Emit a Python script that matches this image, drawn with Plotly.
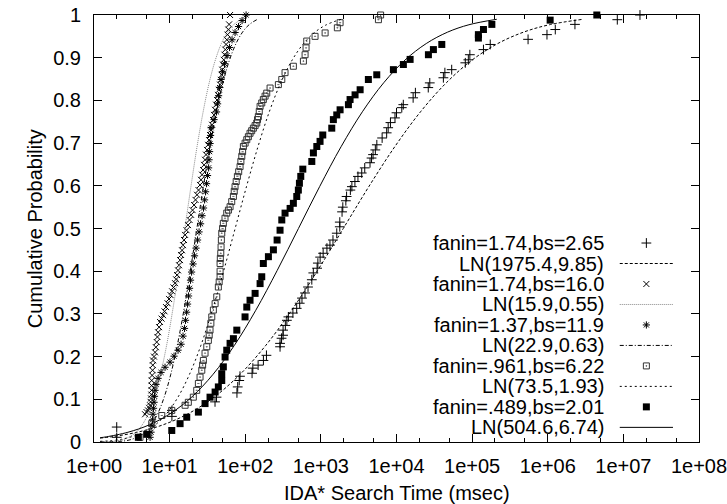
import plotly.graph_objects as go

# ---- data: log10(search time in msec) and cumulative probability ----
# fanin=1.74,bs=2.65  (+)
s1_log10_ms = [0.30, 0.30, 1.03, 1.03, 1.60, 1.62, 1.89, 1.90, 1.92, 1.93, 2.09, 2.10, 2.17, 2.24, 2.28,
               2.46, 2.46, 2.48, 2.50, 2.50, 2.53, 2.55, 2.57, 2.63, 2.68, 2.72, 2.75, 2.79, 2.83, 2.88,
               2.90, 2.95, 2.96, 2.99, 3.03, 3.08, 3.12, 3.16, 3.21, 3.25, 3.25, 3.28, 3.29, 3.33, 3.34,
               3.39, 3.41, 3.45, 3.49, 3.54, 3.58, 3.65, 3.67, 3.69, 3.72, 3.74, 3.81, 3.87, 3.89, 3.92,
               3.98, 4.00, 4.07, 4.09, 4.22, 4.25, 4.42, 4.44, 4.62, 4.64, 4.73, 4.91, 4.95, 4.97, 5.15,
               5.24, 5.74, 5.99, 6.10, 6.36, 6.92, 7.22]
s1_prob = [0.011, 0.035, 0.060, 0.074, 0.094, 0.105, 0.115, 0.129, 0.144, 0.154, 0.161, 0.173, 0.180, 0.191, 0.203,
           0.223, 0.231, 0.243, 0.250, 0.262, 0.273, 0.285, 0.293, 0.302, 0.313, 0.325, 0.337, 0.349, 0.363, 0.380,
           0.396, 0.407, 0.419, 0.433, 0.442, 0.454, 0.461, 0.473, 0.489, 0.504, 0.515, 0.539, 0.550, 0.565, 0.575,
           0.590, 0.598, 0.610, 0.622, 0.630, 0.642, 0.654, 0.665, 0.673, 0.684, 0.696, 0.712, 0.724, 0.736, 0.748,
           0.759, 0.771, 0.783, 0.790, 0.806, 0.818, 0.830, 0.841, 0.853, 0.865, 0.872, 0.888, 0.895, 0.907, 0.919,
           0.931, 0.943, 0.954, 0.966, 0.978, 0.989, 1.0]

# fanin=1.74,bs=16.0  (x)
s2_log10_ms = [0.675, 0.695, 0.714, 0.728, 0.741, 0.748, 0.754, 0.758, 0.761, 0.762,
               0.763, 0.768, 0.774, 0.777, 0.780, 0.793, 0.807, 0.818, 0.829, 0.838,
               0.847, 0.860, 0.873, 0.893, 0.913, 0.932, 0.952, 0.972, 0.992, 1.012,
               1.032, 1.051, 1.071, 1.085, 1.098, 1.111, 1.124, 1.138, 1.151, 1.164,
               1.177, 1.190, 1.204, 1.223, 1.243, 1.263, 1.283, 1.303, 1.323, 1.342,
               1.362, 1.382, 1.402, 1.415, 1.429, 1.442, 1.455, 1.468, 1.481, 1.494,
               1.508, 1.521, 1.534, 1.547, 1.561, 1.574, 1.587, 1.600, 1.614, 1.627,
               1.640, 1.653, 1.667, 1.677, 1.687, 1.696, 1.706, 1.716, 1.726, 1.736,
               1.746, 1.756, 1.766, 1.776, 1.786, 1.799]
s2_prob = [0.065, 0.070, 0.074, 0.080, 0.086, 0.094, 0.102, 0.111, 0.121, 0.132,
           0.144, 0.156, 0.168, 0.180, 0.191, 0.200, 0.210, 0.222, 0.234, 0.246,
           0.257, 0.269, 0.281, 0.289, 0.297, 0.306, 0.316, 0.325, 0.335, 0.344,
           0.353, 0.362, 0.372, 0.381, 0.391, 0.402, 0.414, 0.426, 0.438, 0.449,
           0.461, 0.473, 0.485, 0.496, 0.508, 0.520, 0.532, 0.543, 0.555, 0.567,
           0.579, 0.590, 0.602, 0.614, 0.626, 0.637, 0.649, 0.661, 0.673, 0.684,
           0.696, 0.707, 0.719, 0.731, 0.743, 0.754, 0.766, 0.778, 0.790, 0.801,
           0.813, 0.825, 0.837, 0.848, 0.860, 0.872, 0.884, 0.895, 0.907, 0.919,
           0.931, 0.942, 0.954, 0.966, 0.978, 1.0]

# fanin=1.37,bs=11.9  (*)
s3_log10_ms = [0.741, 0.754, 0.767, 0.774, 0.780, 0.787, 0.794, 0.800, 0.807, 0.820, 0.847, 0.886, 0.939, 1.005,
               1.058, 1.111, 1.151, 1.177, 1.197, 1.210, 1.224, 1.237, 1.250, 1.263, 1.276, 1.290, 1.310, 1.329,
               1.349, 1.369, 1.389, 1.409, 1.429, 1.448, 1.462, 1.475, 1.488, 1.501, 1.515, 1.521, 1.528, 1.534,
               1.541, 1.548, 1.587, 1.620, 1.634, 1.647, 1.660, 1.680, 1.700, 1.726, 1.759, 1.792, 1.825, 1.865,
               1.911, 1.958, 2.011]
s3_prob = [0.011, 0.023, 0.038, 0.052, 0.065, 0.079, 0.093, 0.107, 0.121, 0.135, 0.149, 0.163, 0.175, 0.187,
           0.201, 0.215, 0.229, 0.248, 0.266, 0.285, 0.304, 0.323, 0.342, 0.360, 0.379, 0.398, 0.417, 0.436,
           0.454, 0.473, 0.492, 0.511, 0.530, 0.548, 0.567, 0.586, 0.605, 0.624, 0.642, 0.661, 0.680, 0.699,
           0.718, 0.736, 0.755, 0.773, 0.792, 0.811, 0.830, 0.849, 0.867, 0.886, 0.905, 0.924, 0.942, 0.959,
           0.973, 0.987, 1.0]

# fanin=.961,bs=6.22  (dotted square)
s4_log10_ms = [0.608, 0.763, 0.896, 1.028, 1.204, 1.247, 1.313, 1.358, 1.380, 1.402,
               1.425, 1.436, 1.446, 1.468, 1.491, 1.512, 1.523, 1.534, 1.545, 1.557,
               1.578, 1.601, 1.623, 1.644, 1.655, 1.667, 1.667, 1.667, 1.670, 1.676,
               1.680, 1.684, 1.689, 1.700, 1.710, 1.732, 1.755, 1.777, 1.799, 1.821,
               1.843, 1.854, 1.865, 1.880, 1.896, 1.913, 1.931, 1.942, 1.954, 1.965,
               1.975, 1.998, 2.020, 2.041, 2.063, 2.085, 2.107, 2.130, 2.152, 2.162,
               2.173, 2.185, 2.196, 2.218, 2.239, 2.262, 2.284, 2.328, 2.438, 2.483,
               2.526, 2.636, 2.769, 2.791, 2.804, 2.813, 2.923, 3.056, 3.218, 3.254,
               3.761, 3.790]
s4_prob = [0.011, 0.043, 0.062, 0.074, 0.086, 0.093, 0.105, 0.121, 0.137, 0.152,
           0.168, 0.180, 0.191, 0.208, 0.223, 0.238, 0.250, 0.262, 0.278, 0.293,
           0.309, 0.324, 0.340, 0.363, 0.375, 0.387, 0.400, 0.418, 0.430, 0.442,
           0.457, 0.473, 0.489, 0.500, 0.512, 0.524, 0.536, 0.543, 0.551, 0.563,
           0.575, 0.587, 0.598, 0.610, 0.622, 0.633, 0.645, 0.657, 0.669, 0.680,
           0.692, 0.700, 0.708, 0.715, 0.723, 0.729, 0.735, 0.741, 0.747, 0.755,
           0.762, 0.774, 0.786, 0.794, 0.802, 0.810, 0.817, 0.829, 0.837, 0.849,
           0.865, 0.880, 0.892, 0.907, 0.923, 0.939, 0.950, 0.958, 0.970, 0.982,
           0.989, 1.0]

# fanin=.489,bs=2.01  (filled square)
s5_log10_ms = [0.586, 0.697, 1.028, 1.138, 1.226, 1.380, 1.468, 1.534, 1.601, 1.644, 1.689, 1.689, 1.710, 1.733,
               1.755, 1.799, 1.843, 1.888, 1.997, 2.020, 2.063, 2.130, 2.196, 2.218, 2.239, 2.306, 2.372, 2.421,
               2.460, 2.483, 2.526, 2.593, 2.636, 2.681, 2.702, 2.716, 2.734, 2.761, 2.880, 2.901, 2.946, 2.989,
               3.025, 3.144, 3.165, 3.210, 3.254, 3.364, 3.386, 3.452, 3.519, 3.628, 3.739, 3.959, 4.091, 4.180,
               4.422, 4.488, 4.599, 5.083, 5.083, 5.150, 5.261, 6.032, 6.649]
s5_prob = [0.011, 0.018, 0.027, 0.043, 0.058, 0.070, 0.090, 0.105, 0.117, 0.129, 0.144, 0.160, 0.176, 0.199,
           0.215, 0.231, 0.242, 0.262, 0.293, 0.316, 0.332, 0.348, 0.371, 0.387, 0.418, 0.434, 0.450, 0.473,
           0.496, 0.520, 0.536, 0.547, 0.559, 0.575, 0.590, 0.606, 0.622, 0.639, 0.657, 0.677, 0.692, 0.704,
           0.719, 0.735, 0.755, 0.766, 0.778, 0.790, 0.802, 0.813, 0.825, 0.849, 0.860, 0.872, 0.884, 0.896,
           0.907, 0.919, 0.931, 0.946, 0.954, 0.966, 0.978, 0.988, 1.0]

# fitted log-normal curves
f1_log10_ms = [0.08, 0.229, 0.570, 0.910, 1.251, 1.592, 1.933, 2.273, 2.614, 2.955, 3.296, 3.636, 3.977,
               4.318, 4.659, 4.999, 5.340, 5.681, 6.022, 6.466]
f1_prob = [0.0091, 0.0122, 0.0228, 0.0401, 0.0668, 0.1056, 0.1587, 0.2266, 0.3085, 0.4013, 0.5, 0.5987,
           0.6915, 0.7734, 0.8413, 0.8944, 0.9332, 0.9599, 0.9772, 0.99]
f2_log10_ms = [0.08, 0.235, 0.396, 0.557, 0.637, 0.718, 0.799, 0.879, 0.960, 1.040, 1.121, 1.201, 1.282,
               1.362, 1.443, 1.523, 1.604, 1.684, 1.765, 1.845, 1.950]
f2_prob = [0.0, 0.0013, 0.0062, 0.0228, 0.0401, 0.0668, 0.1056, 0.1587, 0.2266, 0.3085, 0.4013, 0.5, 0.5987,
           0.6915, 0.7734, 0.8413, 0.8944, 0.9332, 0.9599, 0.9772, 0.99]
f3_log10_ms = [0.08, 0.325, 0.498, 0.670, 0.756, 0.843, 0.929, 1.015, 1.101, 1.188, 1.274, 1.360, 1.446,
               1.533, 1.619, 1.705, 1.791, 1.878, 1.964, 2.050, 2.162]
f3_prob = [0.0, 0.0013, 0.0062, 0.0228, 0.0401, 0.0668, 0.1056, 0.1587, 0.2266, 0.3085, 0.4013, 0.5, 0.5987,
           0.6915, 0.7734, 0.8413, 0.8944, 0.9332, 0.9599, 0.9772, 0.99]
f4_log10_ms = [0.08, 0.358, 0.659, 0.810, 0.961, 1.112, 1.263, 1.414, 1.564, 1.715, 1.866, 2.017, 2.168,
               2.318, 2.469, 2.620, 2.771, 2.922, 3.073, 3.269]
f4_prob = [0.0015, 0.0062, 0.0228, 0.0401, 0.0668, 0.1056, 0.1587, 0.2266, 0.3085, 0.4013, 0.5, 0.5987,
           0.6915, 0.7734, 0.8413, 0.8944, 0.9332, 0.9599, 0.9772, 0.99]
f5_log10_ms = [0.08, 0.166, 0.448, 0.730, 1.012, 1.294, 1.575, 1.857, 2.139, 2.421, 2.703, 2.985, 3.267,
               3.549, 3.831, 4.112, 4.394, 4.676, 4.958, 5.326]
f5_prob = [0.010, 0.0122, 0.0228, 0.0401, 0.0668, 0.1056, 0.1587, 0.2266, 0.3085, 0.4013, 0.5, 0.5987,
           0.6915, 0.7734, 0.8413, 0.8944, 0.9332, 0.9599, 0.9772, 0.99]

legend_labels = ["fanin=1.74,bs=2.65", "LN(1975.4,9.85)", "fanin=1.74,bs=16.0", "LN(15.9,0.55)",
                 "fanin=1.37,bs=11.9", "LN(22.9,0.63)", "fanin=.961,bs=6.22", "LN(73.5,1.93)",
                 "fanin=.489,bs=2.01", "LN(504.6,6.74)"]

x_tick_vals = [1, 10, 100, 1e3, 1e4, 1e5, 1e6, 1e7, 1e8]
x_tick_text = ["1e+00", "1e+01", "1e+02", "1e+03", "1e+04", "1e+05", "1e+06", "1e+07", "1e+08"]
y_tick_vals = [0, 0.1, 0.2, 0.3, 0.4, 0.5, 0.6, 0.7, 0.8, 0.9, 1.0]
y_tick_text = ["0", "0.1", "0.2", "0.3", "0.4", "0.5", "0.6", "0.7", "0.8", "0.9", "1"]

FONT = "Liberation Sans, Arial, Helvetica, sans-serif"

def ms(vals):
    return [10 ** v for v in vals]

point_styles = [
    dict(symbol="cross-thin-open", size=7, color="black", line=dict(width=1, color="black")),
    dict(symbol="x-thin-open", size=6, color="black", line=dict(width=1, color="black")),
    dict(symbol="asterisk-open", size=6, color="black", line=dict(width=1, color="black")),
    dict(symbol="square-open-dot", size=6, color="#333333", line=dict(width=1, color="#333333")),
    dict(symbol="square", size=7, color="black", line=dict(width=0)),
]
line_styles = [
    dict(color="black", width=1, dash="3px,2px"),
    dict(color="#888888", width=1, dash="1px,1px"),
    dict(color="black", width=1, dash="4px,2px,1px,2px"),
    dict(color="black", width=1, dash="2px,3px"),
    dict(color="black", width=1, dash="solid"),
]

series = [(s1_log10_ms, s1_prob), (s2_log10_ms, s2_prob), (s3_log10_ms, s3_prob),
          (s4_log10_ms, s4_prob), (s5_log10_ms, s5_prob)]
fits = [(f1_log10_ms, f1_prob), (f2_log10_ms, f2_prob), (f3_log10_ms, f3_prob),
        (f4_log10_ms, f4_prob), (f5_log10_ms, f5_prob)]

fig = go.Figure()
for i in range(5):
    sx, sy = series[i]
    fig.add_trace(go.Scatter(x=ms(sx), y=sy, mode="markers", marker=point_styles[i],
                             name=legend_labels[2 * i], showlegend=False, cliponaxis=False))
    fx, fy = fits[i]
    fig.add_trace(go.Scatter(x=ms(fx), y=fy, mode="lines", line=dict(shape="spline", **line_styles[i]),
                             name=legend_labels[2 * i + 1], showlegend=False))

# key (gnuplot style: label right-aligned, sample to its right), on a helper 0..1 overlay axis pair
row_top, row_step = 0.466, 0.04797
text_right, sample_x0, sample_x1, marker_x = 0.846, 0.869, 0.957, 0.913
annotations = []
for k, lab in enumerate(legend_labels):
    ry = row_top - k * row_step
    annotations.append(dict(x=text_right, y=ry, xref="paper", yref="paper", text=lab, showarrow=False,
                            xanchor="right", yanchor="middle", font=dict(family=FONT, size=20, color="black")))
    i = k // 2
    if k % 2 == 0:
        fig.add_trace(go.Scatter(x=[marker_x], y=[ry], mode="markers", marker=point_styles[i],
                                 xaxis="x2", yaxis="y2", showlegend=False, hoverinfo="skip"))
    else:
        fig.add_trace(go.Scatter(x=[sample_x0, sample_x1], y=[ry, ry], mode="lines", line=line_styles[i],
                                 xaxis="x2", yaxis="y2", showlegend=False, hoverinfo="skip"))

annotations.append(dict(x=0.5, y=-0.119, xref="paper", yref="paper", text="IDA* Search Time (msec)",
                        showarrow=False, xanchor="center", yanchor="middle",
                        font=dict(family=FONT, size=20, color="black")))
annotations.append(dict(x=-0.098, y=0.5, xref="paper", yref="paper", text="Cumulative Probability",
                        showarrow=False, xanchor="center", yanchor="middle", textangle=-90,
                        font=dict(family=FONT, size=20, color="black")))

minor_vals = []
for d in range(8):
    minor_vals += [2 * 10 ** d, 5 * 10 ** d]

fig.update_layout(
    width=727, height=504,
    margin=dict(l=94, r=28, t=15, b=62, autoexpand=False),
    paper_bgcolor="white", plot_bgcolor="white",
    font=dict(family=FONT, size=20, color="black"),
    showlegend=False,
    annotations=annotations,
    xaxis=dict(type="log", range=[-0.0005, 8.0005], tickmode="array", tickvals=x_tick_vals, ticktext=x_tick_text,
               ticks="inside", ticklen=8, tickwidth=1, tickcolor="black", showline=True, linecolor="black",
               linewidth=1, mirror="ticks", showgrid=False, zeroline=False, ticklabelstandoff=6,
               ticklabeloverflow="allow",
               automargin=False, tickfont=dict(family=FONT, size=20, color="black"),
               minor=dict(tickmode="array", tickvals=minor_vals, ticks="inside", ticklen=4,
                          tickwidth=1, tickcolor="black", showgrid=False)),
    yaxis=dict(range=[0, 1], tickmode="array", tickvals=y_tick_vals, ticktext=y_tick_text,
               ticks="inside", ticklen=8, tickwidth=1, tickcolor="black", showline=True, linecolor="black",
               linewidth=1, mirror="ticks", showgrid=False, zeroline=False, ticklabelstandoff=8,
               ticklabeloverflow="allow",
               automargin=False, tickfont=dict(family=FONT, size=20, color="black")),
    xaxis2=dict(overlaying="x", range=[0, 1], anchor="y2", visible=False, fixedrange=True),
    yaxis2=dict(overlaying="y", range=[0, 1], anchor="x2", visible=False, fixedrange=True),
)

fig.write_html("out.html", config={"displayModeBar": False},
               post_script="document.body.style.margin='0';document.body.style.overflow='hidden';")
